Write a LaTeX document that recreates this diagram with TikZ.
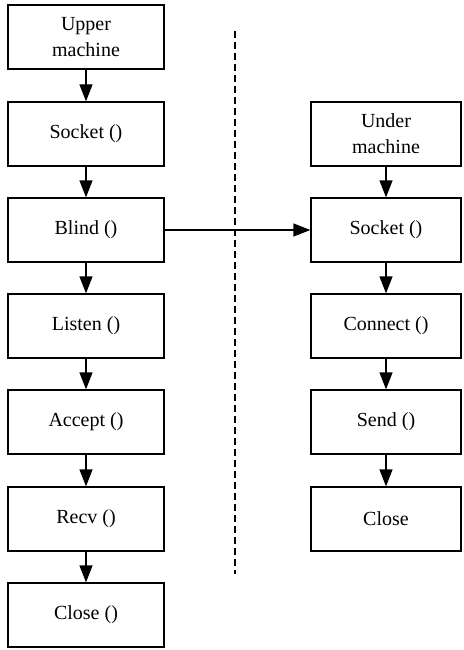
\documentclass[tikz,border=0pt]{standalone}
\usepackage{fontspec}
\setmainfont{Liberation Serif}
\usetikzlibrary{arrows.meta}
\begin{document}
\begin{tikzpicture}[x=1pt,y=-1pt,
  stepbox/.style={draw, line width=1.3pt, minimum height=64pt, inner sep=0pt,
    align=center, font=\fontsize{20}{26}\selectfont},
  leftbox/.style={stepbox, minimum width=156pt},
  rightbox/.style={stepbox, minimum width=150pt},
  flow/.style={line width=1.3pt, -{Triangle[length=17pt,width=13pt]}}]
  \useasboundingbox (0,0) rectangle (463,650);

  % server side
  \node[leftbox] (up)   at (86,37)  {Upper\\machine};
  \node[leftbox] (ls)   at (86,134) {Socket ()};
  \node[leftbox] (bl)   at (86,230) {Blind ()};
  \node[leftbox] (li)   at (86,326) {Listen ()};
  \node[leftbox] (ac)   at (86,422) {Accept ()};
  \node[leftbox] (rc)   at (86,519) {Recv ()};
  \node[leftbox] (lc)   at (86,615) {Close ()};

  % client side
  \node[rightbox] (un)  at (386,134) {Under\\machine};
  \node[rightbox] (rs)  at (386,230) {Socket ()};
  \node[rightbox] (co)  at (386,326) {Connect ()};
  \node[rightbox] (se)  at (386,422) {Send ()};
  \node[rightbox] (rcl) at (386,519) {Close};

  % separator
  \coordinate (sepTop) at (235,31);
  \coordinate (sepBot) at (235,574);
  \draw[line width=1.2pt, dash pattern=on 7pt off 4pt] (sepTop) -- (sepBot);

  \draw[flow] (up) -- (ls);
  \draw[flow] (ls) -- (bl);
  \draw[flow] (bl) -- (li);
  \draw[flow] (li) -- (ac);
  \draw[flow] (ac) -- (rc);
  \draw[flow] (rc) -- (lc);

  \draw[flow] (un) -- (rs);
  \draw[flow] (rs) -- (co);
  \draw[flow] (co) -- (se);
  \draw[flow] (se) -- (rcl);

  \draw[flow] (bl) -- (rs);
\end{tikzpicture}
\end{document}
